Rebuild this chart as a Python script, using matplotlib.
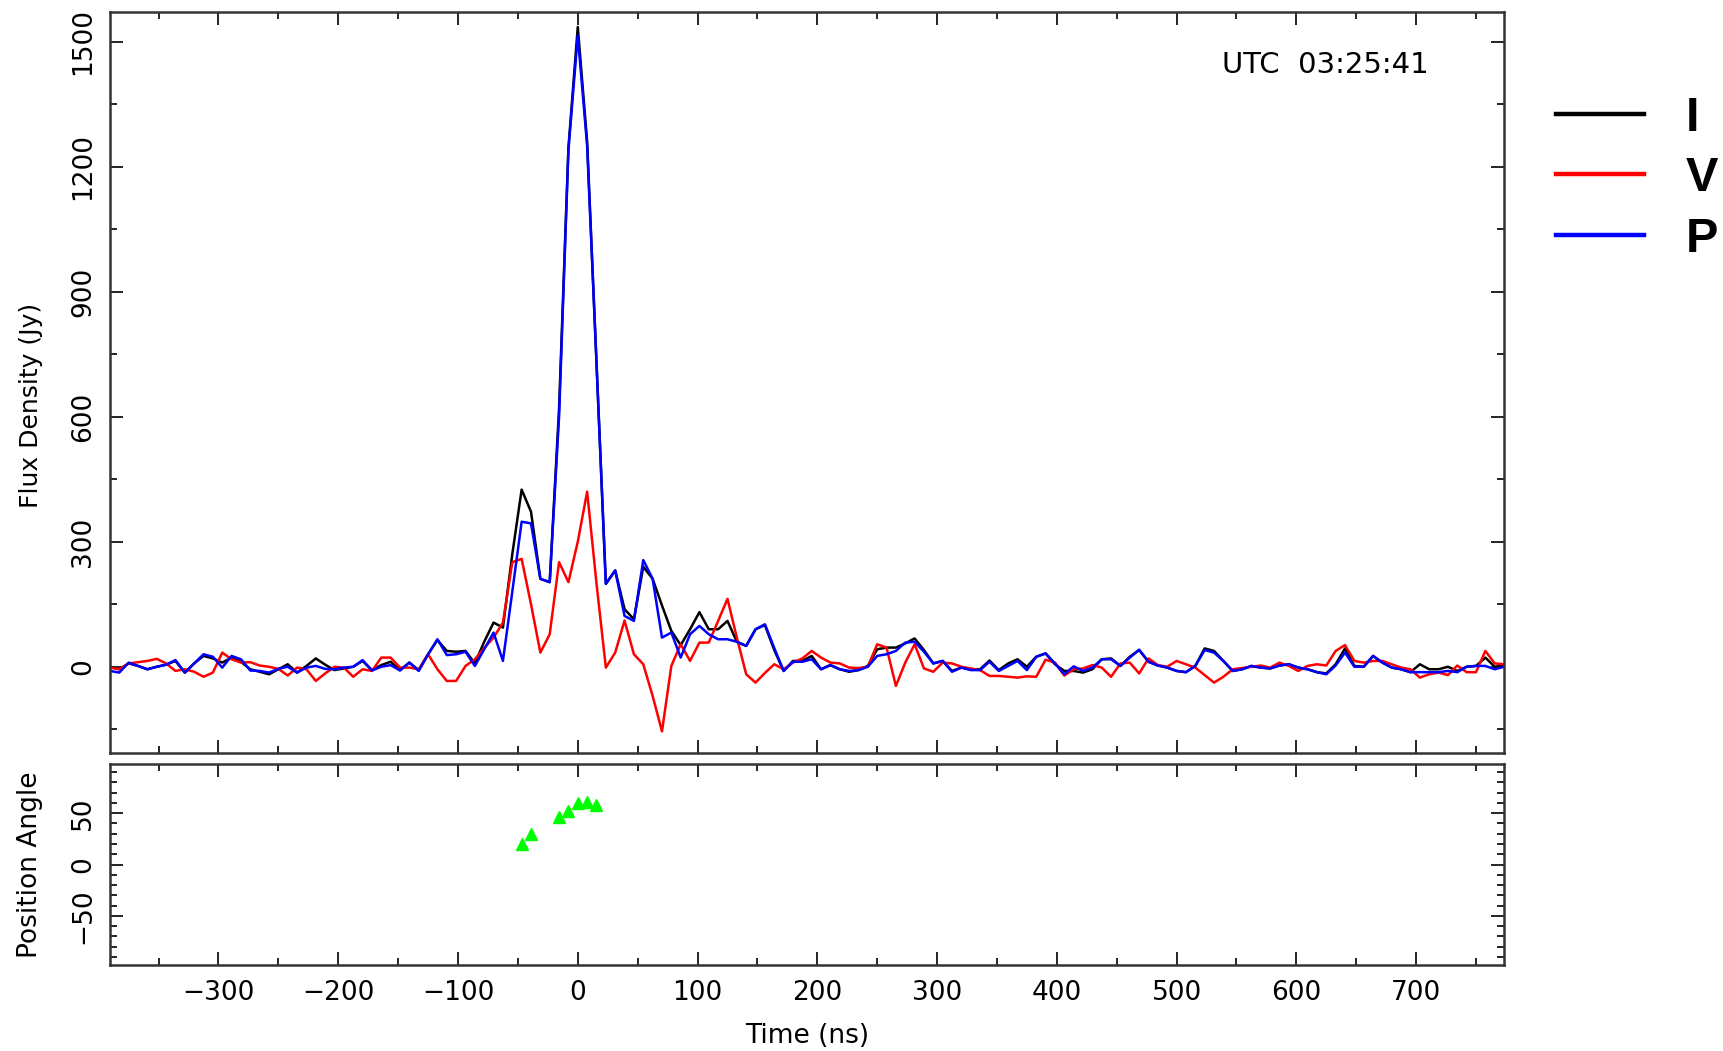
import numpy as np
import matplotlib
matplotlib.use('Agg')
import matplotlib.pyplot as plt
from matplotlib.ticker import MultipleLocator

# sampling: 7.8125 ns bins, first bin index -50
dt = 7.8125
k_first = -50

# Stokes I, V and linear polarisation P (Jy), one value per bin
flux_i = [0, -6, 8, 2, -6, 0, 5, 14, -14, 8,
          26, 20, 10, 22, 12, -6, -12, -18, -6, 6,
          -14, 2, 20, 5, -8, -4, 0, 14, -8, 4,
          12, -8, 10, -8, 30, 64, 38, 36, 38, 8,
          60, 106, 94, 270, 425, 372, 211, 203, 620, 1245,
          1535, 1260, 730, 199, 231, 138, 114, 240, 211, 147,
          86, 52, 90, 131, 90, 90, 110, 60, 50, 90,
          100, 40, -10, 14, 14, 26, -6, 4, -6, -12,
          -8, 2, 42, 46, 46, 56, 68, 40, 8, 14,
          -10, -2, -6, -6, 15, -8, 8, 18, 0, 24,
          32, 6, -10, -10, -14, -6, 18, 20, 2, 24,
          40, 12, 3, -2, -10, -13, 2, 44, 38, 14,
          -10, -6, 2, -2, -4, 3, 6, -2, -6, -13,
          -16, 6, 44, 2, 0, 26, 10, -2, -6, -13,
          6, -6, -6, 0, -10, 0, 2, 22, 0, 3]

flux_v = [-2, -6, 8, 11, 14, 19, 8, -10, -6, -12,
          -24, -14, 34, 18, 10, 11, 3, 0, -5, -21,
          -2, -6, -34, -16, 0, -2, -24, -6, -10, 22,
          22, -2, -2, -6, 30, -6, -34, -34, 2, 18,
          45, 70, 106, 251, 259, 150, 34, 78, 251, 203,
          300, 420, 200, -2, 34, 111, 30, 6, -70, -155,
          2, 54, 14, 58, 58, 110, 163, 70, -18, -38,
          -15, 6, -6, 10, 20, 38, 22, 10, 8, -2,
          -3, 0, 54, 46, -46, 10, 54, -4, -12, 10,
          8, 0, -4, -8, -22, -22, -24, -26, -23, -24,
          17, 10, -21, -6, -4, 4, -2, -24, 8, 10,
          -16, 20, 4, 0, 14, 6, -2, -20, -38, -24,
          -6, -3, 0, 3, -2, 10, 2, -10, 2, 6,
          3, 38, 52, 14, 10, 14, 14, 6, -2, -6,
          -26, -18, -14, -20, 3, -13, -13, 38, 8, 6]

flux_p = [-10, -14, 10, 2, -6, 0, 5, 16, -14, 8,
          30, 24, -2, 26, 18, -9, -10, -14, -5, 0,
          -14, -2, 2, -5, -6, -2, 0, 16, -9, 0,
          4, -9, 10, -10, 30, 66, 28, 30, 36, 2,
          42, 82, 14, 180, 348, 344, 211, 203, 600, 1240,
          1515, 1250, 730, 199, 231, 122, 110, 256, 211, 70,
          82, 22, 78, 98, 78, 66, 66, 60, 50, 90,
          102, 45, -10, 12, 12, 18, -6, 4, -6, -10,
          -8, 0, 26, 30, 38, 58, 60, 36, 8, 14,
          -12, -2, -8, -8, 12, -10, 2, 14, -8, 24,
          32, 8, -18, 1, -10, -2, 18, 18, 2, 22,
          41, 12, 3, -2, -10, -13, 2, 40, 34, 14,
          -10, -6, 2, -2, -4, 3, 6, -2, -6, -13,
          -18, 3, 34, 0, 0, 26, 10, -2, -6, -13,
          -13, -13, -13, -10, -13, 0, 2, 2, -6, 0]

# position angle (deg) where P is significant
pa_time = [-46.9, -39.1, -15.6, -7.8, 0.0, 7.8, 15.6]
pa_deg = [20, 30, 46, 52, 59.5, 61, 58]

t = (np.arange(len(flux_i)) + k_first) * dt

plt.rcParams['font.family'] = ['DejaVu Sans']
plt.rcParams['axes.unicode_minus'] = True

fig = plt.figure(figsize=(17.24, 10.51), dpi=100)
ax1 = fig.add_axes([0.0638, 0.2835, 0.8086, 0.7055])
ax2 = fig.add_axes([0.0638, 0.0818, 0.8086, 0.1913])

ax1.plot(t, flux_i, color='black', lw=1.8, label='I')
ax1.plot(t, flux_v, color='#ff0000', lw=1.8, label='V')
ax1.plot(t, flux_p, color='#0000ff', lw=1.8, label='P')
ax2.plot(pa_time, pa_deg, ls='none', marker='^', color='#00ff00', ms=9)

xlim = (-390.6, 773.4)
ax1.set_xlim(*xlim)
ax2.set_xlim(*xlim)
ax1.set_ylim(-207, 1572)
ax2.set_ylim(-98, 98)

for ax in (ax1, ax2):
    ax.xaxis.set_major_locator(MultipleLocator(100))
    ax.xaxis.set_minor_locator(MultipleLocator(50))
    ax.tick_params(which='both', direction='in', top=True, right=True,
                   width=1.2, color='black', labelsize=19)
    ax.tick_params(which='major', length=9.5)
    ax.tick_params(which='minor', length=5)
    ax.tick_params(axis='y', labelrotation=90, pad=10)
    ax.tick_params(axis='x', pad=11)
    for s in ax.spines.values():
        s.set_linewidth(1.8)
        s.set_color('#333333')

ax1.yaxis.set_major_locator(MultipleLocator(300))
ax1.yaxis.set_minor_locator(MultipleLocator(150))
ax2.yaxis.set_major_locator(MultipleLocator(50))
ax2.yaxis.set_minor_locator(MultipleLocator(10))
ax1.tick_params(axis='x', labelbottom=False)
for lbl in ax1.get_yticklabels() + ax2.get_yticklabels():
    lbl.set_va('center')

ax1.set_ylabel('Flux Density (Jy)', fontsize=18)
ax1.yaxis.set_label_coords(-0.048, 0.469)
ax2.set_ylabel('Position Angle', fontsize=19)
ax2.yaxis.set_label_coords(-0.048, 0.5)
ax2.set_xlabel('Time (ns)', fontsize=19)
ax2.xaxis.set_label_coords(0.5, -0.29)

ax1.text(0.946, 0.9286, 'UTC  03:25:41', transform=ax1.transAxes,
         ha='right', va='center', fontsize=21)

leg = ax1.legend(loc='upper left', bbox_to_anchor=(0.9026, 0.909),
                 bbox_transform=fig.transFigure, frameon=False,
                 handlelength=1.81, handletextpad=0.85, labelspacing=0.32,
                 borderpad=0, borderaxespad=0,
                 prop={'family': 'Liberation Sans', 'weight': 'bold',
                       'size': 35})
for h in leg.get_lines():
    h.set_linewidth(3.2)

fig.savefig('out.png', dpi=100, facecolor='white')
